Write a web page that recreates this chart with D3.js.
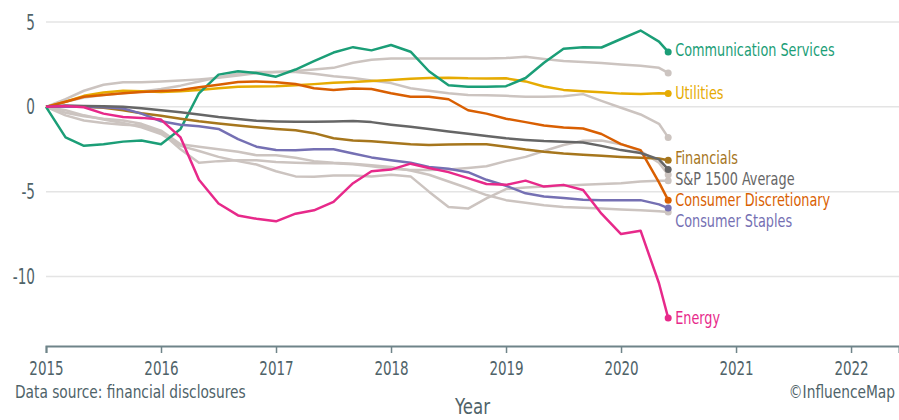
<!DOCTYPE html>
<html>
<head>
<meta charset="utf-8">
<script src="https://cdn.jsdelivr.net/npm/d3@7"></script>
<style>
  body { margin: 0; background: #fff; }
  svg text { font-family: "DejaVu Sans Condensed", "Liberation Sans Narrow", sans-serif; }
</style>
</head>
<body>
<div id="chart"></div>
<script>
// decimal years, roughly every two months, last point is the latest disclosure
var dates = [2015.00, 2015.17, 2015.33, 2015.50, 2015.67, 2015.83,
             2016.00, 2016.17, 2016.33, 2016.50, 2016.67, 2016.83,
             2017.00, 2017.17, 2017.33, 2017.50, 2017.67, 2017.83,
             2018.00, 2018.17, 2018.33, 2018.50, 2018.67, 2018.83,
             2019.00, 2019.17, 2019.33, 2019.50, 2019.67, 2019.83,
             2020.00, 2020.17, 2020.33, 2020.41];

var yearTicks = [2015, 2016, 2017, 2018, 2019, 2020, 2021, 2022];
var valueTicks = [5, 0, -5, -10];

// highlighted sectors
var commServices = [0, -1.8, -2.3, -2.2, -2.05, -1.98, -2.2, -1.3, 0.8, 1.9, 2.1, 2.0,
  1.78, 2.2, 2.7, 3.2, 3.52, 3.33, 3.65, 3.25, 2.1, 1.27, 1.18, 1.18,
  1.22, 1.7, 2.6, 3.42, 3.52, 3.5, 4.0, 4.5, 3.85, 3.24];
var utilities = [0, 0.3, 0.65, 0.85, 0.95, 0.92, 0.88, 0.92, 1.0, 1.1, 1.18, 1.2,
  1.22, 1.27, 1.34, 1.42, 1.47, 1.52, 1.58, 1.65, 1.7, 1.72, 1.68, 1.67,
  1.68, 1.5, 1.2, 1.0, 0.92, 0.86, 0.78, 0.76, 0.8, 0.79];
var financials = [0, 0, 0, -0.05, -0.2, -0.38, -0.52, -0.7, -0.85, -0.98, -1.1, -1.2,
  -1.3, -1.38, -1.55, -1.85, -1.98, -2.03, -2.12, -2.2, -2.25, -2.22, -2.2, -2.2,
  -2.35, -2.52, -2.65, -2.75, -2.82, -2.88, -2.95, -3.0, -3.05, -3.15];
var sp1500 = [0, 0.08, 0.05, 0.04, 0.0, -0.08, -0.2, -0.32, -0.45, -0.6, -0.72, -0.82,
  -0.86, -0.88, -0.88, -0.86, -0.84, -0.9, -1.05, -1.18, -1.3, -1.45, -1.58, -1.72,
  -1.85, -1.95, -2.02, -2.06, -2.1, -2.3, -2.55, -2.72, -3.1, -3.69];
var consDiscretionary = [0, 0.3, 0.6, 0.7, 0.8, 0.88, 0.93, 1.0, 1.15, 1.3, 1.47, 1.5,
  1.45, 1.35, 1.1, 1.0, 1.08, 1.05, 0.8, 0.6, 0.6, 0.45, -0.2, -0.4,
  -0.7, -0.9, -1.1, -1.22, -1.28, -1.6, -2.2, -2.55, -4.45, -5.5];
var consStaples = [0, 0, 0, -0.02, -0.1, -0.4, -0.85, -1.05, -1.15, -1.3, -1.9, -2.35,
  -2.55, -2.56, -2.5, -2.5, -2.75, -2.98, -3.15, -3.3, -3.55, -3.65, -3.85, -4.3,
  -4.65, -5.1, -5.28, -5.38, -5.48, -5.5, -5.5, -5.5, -5.75, -5.97];
var energy = [0, 0.05, -0.02, -0.4, -0.6, -0.65, -0.75, -1.8, -4.3, -5.7, -6.4, -6.6,
  -6.75, -6.3, -6.1, -5.6, -4.5, -3.8, -3.7, -3.35, -3.6, -3.85, -4.2, -4.55,
  -4.6, -4.35, -4.7, -4.6, -4.9, -6.3, -7.5, -7.3, -10.4, -12.45];

// remaining sectors, drawn in grey
var grey1 = [0, 0.45, 0.95, 1.3, 1.45, 1.45, 1.5, 1.55, 1.62, 1.72, 1.85, 1.98,
  2.06, 2.12, 2.2, 2.3, 2.6, 2.78, 2.85, 2.85, 2.85, 2.85, 2.85, 2.85,
  2.88, 2.95, 2.82, 2.7, 2.65, 2.58, 2.5, 2.42, 2.3, 2.0];
var grey2 = [0, 0.3, 0.55, 0.7, 0.8, 0.9, 1.05, 1.25, 1.5, 1.75, 1.95, 2.05,
  2.05, 2.05, 1.95, 1.8, 1.7, 1.55, 1.4, 1.1, 0.95, 0.8, 0.7, 0.68,
  0.65, 0.6, 0.6, 0.62, 0.75, 0.35, -0.05, -0.45, -1.0, -1.8];
var grey3 = [0, -0.5, -0.8, -0.95, -1.05, -1.1, -1.5, -2.5, -3.3, -3.2, -3.15, -3.15,
  -3.25, -3.3, -3.33, -3.33, -3.38, -3.5, -3.65, -3.72, -3.72, -3.7, -3.6, -3.5,
  -3.2, -2.95, -2.6, -2.25, -2.0, -1.98, -2.2, -2.6, -3.3, -4.0];
var grey4 = [0, -0.35, -0.55, -0.7, -0.8, -1.0, -1.4, -2.2, -2.35, -2.5, -2.65, -2.85,
  -2.85, -3.0, -3.2, -3.3, -3.35, -3.45, -3.55, -3.75, -4.0, -4.4, -4.8, -5.2,
  -5.5, -5.65, -5.8, -5.9, -5.95, -6.0, -6.05, -6.1, -6.15, -6.2];
var grey5 = [0, -0.2, -0.5, -0.75, -0.95, -1.2, -1.6, -2.3, -2.6, -2.95, -3.2, -3.4,
  -3.8, -4.1, -4.12, -4.05, -4.05, -4.1, -4.0, -4.1, -5.0, -5.9, -6.0, -5.4,
  -4.85, -4.75, -4.7, -4.65, -4.6, -4.55, -4.5, -4.4, -4.35, -4.35];

var greys = [grey1, grey2, grey3, grey4, grey5];

var highlighted = [
  { name: 'Utilities', values: utilities, color: '#e6ab02', dy: 0 },
  { name: 'Communication Services', values: commServices, color: '#1b9e77', dy: -2 },
  { name: 'Financials', values: financials, color: '#a6761d', dy: -2 },
  { name: 'Consumer Discretionary', values: consDiscretionary, color: '#d95f02', dy: 0 },
  { name: 'Consumer Staples', values: consStaples, color: '#7570b3', dy: 13 },
  { name: 'S&P 1500 Average', values: sp1500, color: '#666666', dy: 10 },
  { name: 'Energy', values: energy, color: '#e7298a', dy: 0 }
];

var W = 899, H = 420;
var textColor = '#4f6369';

// squeeze text horizontally, the original uses a tall narrow face
function narrow(sel, px, py, sx) {
    sel.attr('x', 0).attr('y', 0)
        .attr('transform', 'translate(' + px + ',' + py + ') scale(' + sx + ',1)');
}

var svg = d3.select('#chart').append('svg')
    .attr('width', W)
    .attr('height', H);

var x = d3.scaleLinear()
    .domain([2015, 2022.417])
    .range([46, 899]);

var y = d3.scaleLinear()
    .domain([-14.1, 6.3])
    .range([346, 0]);

// horizontal grid
svg.append('g')
    .selectAll('line')
    .data(valueTicks)
    .enter()
    .append('line')
    .attr('x1', x(2015))
    .attr('x2', W)
    .attr('y1', d => y(d))
    .attr('y2', d => y(d))
    .attr('stroke', '#e4e4e4')
    .attr('stroke-width', 1.5);

// y tick labels
svg.append('g')
    .selectAll('text')
    .data(valueTicks)
    .enter()
    .append('text')
    .attr('text-anchor', 'end')
    .attr('dominant-baseline', 'central')
    .attr('font-size', 21)
    .attr('fill', textColor)
    .text(d => d)
    .each(function (d) { narrow(d3.select(this), 35, y(d), 0.72); });

// x axis
var xAxis = d3.axisBottom(x)
    .tickValues(yearTicks)
    .tickFormat(d3.format('d'))
    .tickSize(7)
    .tickPadding(8);

var gx = svg.append('g')
    .attr('transform', 'translate(0,' + y(-14.1) + ')')
    .call(xAxis);

gx.select('.domain')
    .attr('stroke', '#6f8489')
    .attr('stroke-width', 2);
gx.selectAll('.tick line')
    .attr('stroke', '#6f8489')
    .attr('stroke-width', 1.5);
gx.selectAll('.tick text')
    .attr('font-size', 20)
    .attr('fill', textColor)
    .attr('font-family', null)
    .attr('dy', null)
    .attr('dominant-baseline', 'central')
    .each(function () { narrow(d3.select(this), 0, 22, 0.75); });

var line = d3.line()
    .x((d, i) => x(dates[i]))
    .y(d => y(d));

var last = dates.length - 1;

// grey sectors
svg.append('g')
    .selectAll('path')
    .data(greys)
    .enter()
    .append('path')
    .attr('d', d => line(d))
    .attr('fill', 'none')
    .attr('stroke', '#ccc4c0')
    .attr('stroke-width', 2.5)
    .attr('stroke-linejoin', 'round');

svg.append('g')
    .selectAll('circle')
    .data(greys)
    .enter()
    .append('circle')
    .attr('cx', x(dates[last]))
    .attr('cy', d => y(d[last]))
    .attr('r', 3.5)
    .attr('fill', '#ccc4c0');

// coloured sectors
var series = svg.append('g')
    .selectAll('g')
    .data(highlighted)
    .enter()
    .append('g');

series.append('path')
    .attr('d', d => line(d.values))
    .attr('fill', 'none')
    .attr('stroke', d => d.color)
    .attr('stroke-width', 2.5)
    .attr('stroke-linejoin', 'round');

series.append('circle')
    .attr('cx', x(dates[last]))
    .attr('cy', d => y(d.values[last]))
    .attr('r', 3.5)
    .attr('fill', d => d.color);

series.append('text')
    .attr('dominant-baseline', 'central')
    .attr('font-size', 17)
    .attr('fill', d => d.color)
    .text(d => d.name)
    .each(function (d) {
        narrow(d3.select(this), x(dates[last]) + 7, y(d.values[last]) + d.dy, 0.84);
    });

// footer texts
svg.append('text')
    .attr('font-size', 17)
    .attr('fill', textColor)
    .text('Data source: financial disclosures')
    .call(narrow, 15, 398, 0.9);

svg.append('text')
    .attr('text-anchor', 'end')
    .attr('font-size', 17)
    .attr('fill', textColor)
    .text('\u00A9InfluenceMap')
    .call(narrow, 895, 398, 0.9);

svg.append('text')
    .attr('text-anchor', 'middle')
    .attr('font-size', 21)
    .attr('fill', textColor)
    .text('Year')
    .call(narrow, (x(2015) + W) / 2, 414, 0.88);
</script>
</body>
</html>
